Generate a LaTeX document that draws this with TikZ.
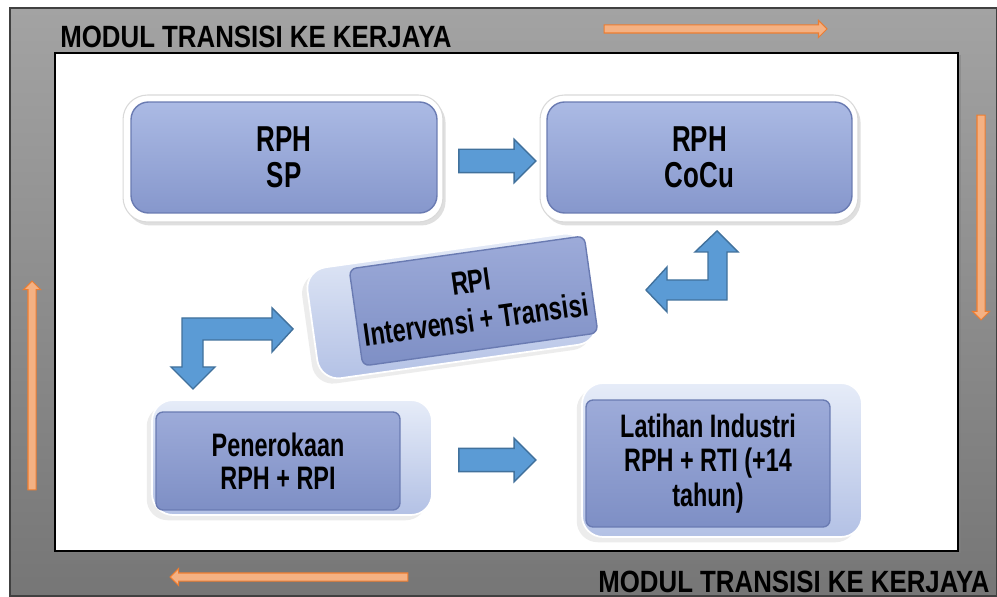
\documentclass[tikz,border=0pt]{standalone}
\usepackage{fontspec}
\newfontfamily\titlefont[FakeStretch=0.84]{Liberation Sans}
\newfontfamily\boxfont[FakeStretch=0.72]{Liberation Sans}
\usetikzlibrary{positioning,shapes.arrows,shadows}

\definecolor{frameTop}{HTML}{A3A3A3}
\definecolor{frameBot}{HTML}{767676}
\definecolor{faceTop}{HTML}{ABBAE4}
\definecolor{faceBot}{HTML}{8697CC}
\definecolor{faceLine}{HTML}{6A7BB2}
\definecolor{cubeTop}{HTML}{9DABD9}
\definecolor{cubeBot}{HTML}{7E8FC5}
\definecolor{bevelTop}{HTML}{E6ECF8}
\definecolor{bevelBot}{HTML}{B3C1E5}
\definecolor{blueFill}{HTML}{5B9BD5}
\definecolor{blueLine}{HTML}{41719C}
\definecolor{orangeFill}{HTML}{F4B183}
\definecolor{orangeLine}{HTML}{ED7D31}

\begin{document}
\begin{tikzpicture}[x=0.02cm,y=-0.02cm,
  titletext/.style={font=\titlefont\bfseries\fontsize{17.5}{19}\selectfont, inner sep=0pt},
  whiteframe/.style={fill=white, draw=black!15, line width=0.6pt, rounded corners=14pt,
    drop shadow={shadow xshift=1.5pt, shadow yshift=-2pt, opacity=0.25}},
  flatbox/.style={rounded corners=10pt, top color=faceTop, bottom color=faceBot,
    draw=faceLine, line width=0.8pt, align=center,
    font=\boxfont\bfseries\fontsize{20.5}{20.5}\selectfont},
  bevel/.style={rounded corners=12pt, top color=bevelTop, bottom color=bevelBot,
    draw=white, line width=1pt,
    drop shadow={shadow xshift=-3pt, shadow yshift=-3pt, opacity=0.15}},
  cubeface/.style={rounded corners=4pt, top color=cubeTop, bottom color=cubeBot,
    draw=faceLine, line width=0.8pt, align=center,
    font=\boxfont\bfseries\fontsize{18.5}{18.5}\selectfont},
  bluearrow/.style={single arrow, fill=blueFill, draw=blueLine, line width=0.8pt,
    inner xsep=0pt, inner ysep=0.22cm, single arrow head extend=0.2cm},
  orangearrow/.style={single arrow, fill=orangeFill, draw=orangeLine, line width=0.6pt,
    inner xsep=0pt, inner ysep=0.07cm, single arrow head extend=0.09cm},
  bentarrow/.style={fill=blueFill, draw=blueLine, line width=0.8pt}]

\useasboundingbox (0,0) rectangle (997,597);
\fill[white] (0,0) rectangle (997,597);

% bingkai
\draw[top color=frameTop, bottom color=frameBot, draw=black!75, line width=1pt]
  (10,8) rectangle (997,596);
\draw[fill=white, draw=black, line width=0.8pt,
  drop shadow={shadow xshift=1.5pt, shadow yshift=-1pt, opacity=0.5}]
  (55,53) rectangle (958,551);

\node[titletext, anchor=base west] (toptitle) at (60,48) {MODUL TRANSISI KE KERJAYA};
\node[titletext, anchor=base east] (bottitle) at (990,592) {MODUL TRANSISI KE KERJAYA};

\node[orangearrow, minimum height=4.46cm] (ortop) at (713.5,29) {};
\node[orangearrow, minimum height=4.1cm, rotate=-90] (orright) at (981,215.5) {};
\node[orangearrow, minimum height=4.76cm, rotate=180] (orbot) at (291,577) {};
\node[orangearrow, minimum height=4.18cm, rotate=90] (orleft) at (32,387.5) {};

% kotak atas
\node[whiteframe, minimum width=6.4cm, minimum height=2.54cm] (spframe) at (283,158.5) {};
\node[flatbox, minimum width=6.12cm, minimum height=2.22cm] (sp) at (284,157.5) {RPH\\SP};
\node[whiteframe, minimum width=6.36cm, minimum height=2.54cm] (cocuframe) at (699,158.5) {};
\node[flatbox, minimum width=6.1cm, minimum height=2.22cm] (cocu) at (699.5,157.5) {RPH\\CoCu};

\node[bluearrow, minimum height=1.54cm] (sptococu) at (491.5,161) {};

% kotak 3D
\begin{scope}[rotate around={8:(452,306)}, transform shape]
  \node[bevel, minimum width=5.64cm, minimum height=2.24cm] (rpibevel) at (452,306) {};
  \node[cubeface, minimum width=4.72cm, minimum height=1.96cm,
    font=\boxfont\bfseries\fontsize{18.5}{22}\selectfont] (rpi) at (474,304)
    {RPI\\Intervensi + Transisi};
\end{scope}

\node[bevel, minimum width=5.6cm, minimum height=2.3cm] (penbevel) at (292,457.5) {};
\node[cubeface, minimum width=4.88cm, minimum height=1.96cm] (pen) at (278,461)
  {Penerokaan\\RPH + RPI};

\node[bevel, minimum width=5.6cm, minimum height=3.08cm] (latbevel) at (722,460) {};
\node[cubeface, minimum width=4.88cm, minimum height=2.54cm,
  font=\boxfont\bfseries\fontsize{18.5}{19.5}\selectfont] (lat) at (708,463.5)
  {Latihan Industri\\RPH + RTI (+14\\tahun)};

\node[bluearrow, minimum height=1.54cm] (pentolat) at (491.5,460) {};

% anak panah bengkok
\draw[bentarrow] (717,231) -- (738,252) -- (727,252) -- (727,300) -- (667,300)
  -- (667,312) -- (646,290) -- (667,267) -- (667,280) -- (708,280) -- (708,252)
  -- (695,252) -- cycle;
\draw[bentarrow] (293,329) -- (272,352) -- (272,340) -- (203,340) -- (203,367)
  -- (215,367) -- (193,389) -- (171,367) -- (182,367) -- (182,318) -- (272,318)
  -- (272,308) -- cycle;
\end{tikzpicture}
\end{document}
